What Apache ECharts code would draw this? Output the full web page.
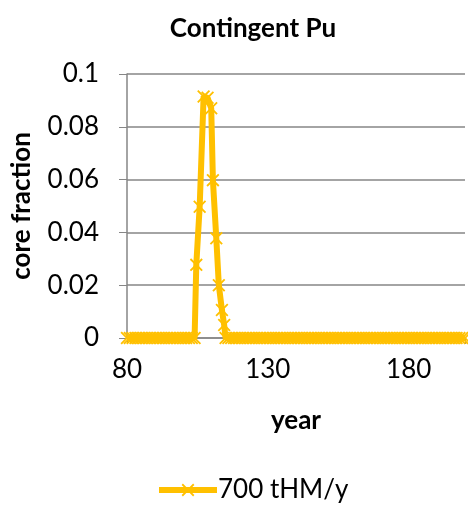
<!DOCTYPE html>
<html><head><meta charset="utf-8">
<script src="https://cdn.jsdelivr.net/npm/echarts@6/dist/echarts.min.js"></script>
<style>html,body{margin:0;padding:0;background:#fff}#c{width:468px;height:508px}</style>
</head><body><div id="c"></div>
<script>
const titleText = 'Contingent Pu';
const seriesName = '700 tHM/y';
const xTicks = [80, 130, 180];
const yTicks = [0, 0.02, 0.04, 0.06, 0.08, 0.1];
// baseline years before and after the pulse (value 0)
const zeroYearsBefore = [];
for (let y = 80; y <= 104; y++) zeroYearsBefore.push(y);
const zeroYearsAfter = [];
for (let y = 115; y <= 200; y++) zeroYearsAfter.push(y);
// pulse points: [year, core fraction]
const pulseYears  = [104.6, 105.8, 107.2, 108.6, 109.9, 110.5, 111.7, 112.6, 113.7, 114.5];
const pulseValues = [0.0277, 0.0497, 0.0915, 0.0910, 0.0870, 0.0598, 0.0378, 0.0200, 0.0106, 0.0049];

const data = [];
zeroYearsBefore.forEach(y => data.push([y, 0]));
pulseYears.forEach((y, i) => data.push([y, pulseValues[i]]));
zeroYearsAfter.forEach(y => data.push([y, 0]));

const ORANGE = '#FFC000';
const FONT = 'Lato';
const xSym = 'path://M0,1L1,0L5,4L9,0L10,1L6,5L10,9L9,10L5,6L1,10L0,9L4,5Z';

const chart = echarts.init(document.getElementById('c'));
chart.setOption({
  animation: false,
  title: {
    text: titleText, left: 248, top: 11, textAlign: 'center',
    textStyle: { fontFamily: FONT, fontWeight: 'bold', fontSize: 26, color: '#000' }
  },
  legend: {
    bottom: 0, left: 151,
    itemWidth: 58, itemHeight: 16, itemGap: 2,
    lineStyle: { width: 6 },
    textStyle: { fontFamily: FONT, fontSize: 26, color: '#000', padding: [0, 0, 0, -4] },
    data: [{ name: seriesName }]
  },
  grid: { left: 127, top: 74, bottom: 170, right: -6 },
  xAxis: {
    type: 'value', min: 80, max: 200, interval: 50,
    name: 'year', nameLocation: 'middle', nameGap: 70,
    nameTextStyle: { fontFamily: FONT, fontWeight: 'bold', fontSize: 26, color: '#000' },
    axisLine: { show: true, onZero: false, lineStyle: { color: '#868686', width: 1.5 } },
    axisTick: { show: true, length: 6, lineStyle: { color: '#868686' } },
    axisLabel: { fontFamily: FONT, fontSize: 26, color: '#000', margin: 19,
      formatter: v => xTicks.includes(v) ? String(v) : '' },
    splitLine: { show: false }
  },
  yAxis: {
    type: 'value', min: 0, max: 0.1, interval: 0.02,
    name: 'core fraction', nameLocation: 'middle', nameGap: 92, nameRotate: 90,
    nameTextStyle: { fontFamily: FONT, fontWeight: 'bold', fontSize: 26, color: '#000' },
    axisLine: { show: true, lineStyle: { color: '#868686', width: 1.5 } },
    axisTick: { show: true, length: 8, lineStyle: { color: '#868686' } },
    axisLabel: { fontFamily: FONT, fontSize: 26, color: '#000', margin: 28,
      formatter: v => { const t = yTicks.find(k => Math.abs(k - v) < 1e-9); return t === undefined ? '' : String(+t.toFixed(2)); } },
    splitLine: { show: true, lineStyle: { color: '#868686', width: 1.5 } }
  },
  series: [{
    name: seriesName, type: 'line', data: data,
    symbol: xSym, symbolSize: 13, showAllSymbol: true,
    lineStyle: { color: ORANGE, width: 6 },
    itemStyle: { color: ORANGE },
    clip: false
  }]
});
</script></body></html>
